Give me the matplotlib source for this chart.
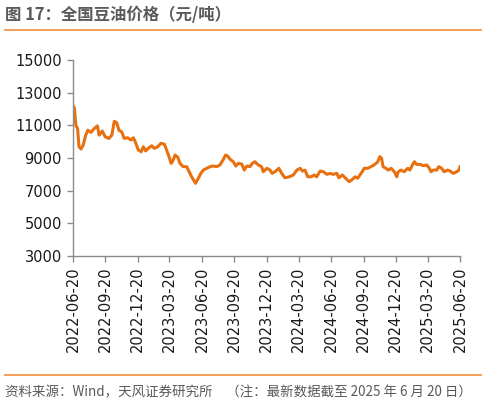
import matplotlib
matplotlib.use("Agg")
import matplotlib.pyplot as plt
from matplotlib.lines import Line2D
import pandas as pd

plt.rcParams['font.family'] = ['DejaVu Sans', 'Noto Sans CJK SC']

# days since 2022-06-20
days = [0, 4, 8, 13, 17, 23, 29, 36, 42, 51, 60, 69, 74, 83, 91, 102, 110, 117, 124, 130,
        138, 145, 155, 164, 171, 178, 185, 193, 199, 206, 213, 223, 230, 240, 249, 259, 265,
        272, 278, 284, 289, 297, 303, 312, 322, 329, 336, 344, 347, 355, 362, 369, 379, 388,
        397, 407, 416, 426, 432, 438, 445, 454, 461, 468, 478, 485, 492, 501, 508, 515, 525,
        534, 539, 549, 558, 564, 572, 583, 591, 600, 612, 624, 634, 643, 650, 657, 665, 674,
        683, 690, 700, 709, 719, 728, 737, 747, 753, 763, 772, 782, 789, 799, 806, 816, 825,
        835, 844, 855, 863, 869, 874, 878, 886, 893, 901, 910, 917, 921, 929, 938, 948, 954,
        961, 967, 973, 983, 992, 1002, 1008, 1014, 1020, 1030, 1036, 1044, 1051, 1061, 1068,
        1077, 1087, 1093, 1096]
price = [12200, 12060, 11000, 10800, 9690, 9550, 9800, 10400, 10700, 10570, 10800, 10970,
         10400, 10650, 10300, 10200, 10400, 11250, 11150, 10700, 10600, 10200, 10240, 10100,
         10240, 9900, 9490, 9380, 9690, 9430, 9590, 9750, 9590, 9690, 9900, 9840, 9490, 9080,
         8670, 8880, 9180, 9040, 8670, 8470, 8470, 8160, 7850, 7550, 7450, 7760, 8060, 8260,
         8370, 8470, 8510, 8470, 8570, 8920, 9180, 9120, 8920, 8770, 8510, 8670, 8630, 8260,
         8510, 8470, 8670, 8770, 8570, 8470, 8160, 8370, 8260, 8060, 8160, 8370, 8060, 7790,
         7850, 7960, 8260, 8370, 8200, 8260, 7850, 7850, 7960, 7850, 8200, 8160, 8000, 8060,
         8000, 8060, 7790, 7960, 7760, 7550, 7650, 7850, 7760, 8060, 8370, 8370, 8470, 8610,
         8770, 9080, 8980, 8470, 8370, 8260, 8370, 8160, 7850, 8160, 8260, 8160, 8370, 8260,
         8570, 8770, 8610, 8610, 8530, 8570, 8410, 8160, 8260, 8260, 8470, 8370, 8160, 8260,
         8200, 8060, 8160, 8260, 8470]

tick_labels = ["2022-06-20", "2022-09-20", "2022-12-20", "2023-03-20", "2023-06-20",
               "2023-09-20", "2023-12-20", "2024-03-20", "2024-06-20", "2024-09-20",
               "2024-12-20", "2025-03-20", "2025-06-20"]
y_ticks = [3000, 5000, 7000, 9000, 11000, 13000, 15000]

start = pd.Timestamp("2022-06-20")
dates = [start + pd.Timedelta(days=d) for d in days]
tick_dates = [pd.Timestamp(t) for t in tick_labels]

fig = plt.figure(figsize=(4.87, 4.04), dpi=100)
ax = fig.add_axes([73 / 487, 1 - 256 / 404, 387 / 487, 196 / 404])

ax.plot(dates, price, color="#E8700F", linewidth=2.2, solid_joinstyle="round")

ax.set_xlim(tick_dates[0], tick_dates[-1])
ax.set_ylim(3000, 15000)
ax.set_yticks(y_ticks)
ax.set_xticks(tick_dates)
ax.set_xticklabels(tick_labels, rotation=90)

for side in ["top", "right"]:
    ax.spines[side].set_visible(False)
for side in ["left", "bottom"]:
    ax.spines[side].set_color("#8c8c8c")
    ax.spines[side].set_linewidth(1.0)
ax.tick_params(axis="both", colors="#8c8c8c", length=4, width=1.0, labelcolor="#1a1a1a",
               labelsize=10.5)
ax.tick_params(axis="y", pad=4)

cjk = ["Noto Sans CJK SC", "DejaVu Sans"]
fig.text(5 / 487, 1 - 15 / 404, "图 17：全国豆油价格（元/吨）", fontsize=11.8, fontweight="bold",
         color="#5a5a5a", va="center", ha="left", family=cjk)
fig.add_artist(Line2D([5 / 487, 481 / 487], [1 - 29.5 / 404, 1 - 29.5 / 404],
                      color="#F3974A", linewidth=1.3))
fig.add_artist(Line2D([5 / 487, 481 / 487], [1 - 375 / 404, 1 - 375 / 404],
                      color="#F3974A", linewidth=1.3))
fig.text(5 / 487, 1 - 392 / 404,
         "资料来源：Wind，天风证券研究所　（注：最新数据截至 2025 年 6 月 20 日）",
         fontsize=9.7, color="#595959", va="center", ha="left", family=cjk)

fig.savefig("out.png", dpi=100)
